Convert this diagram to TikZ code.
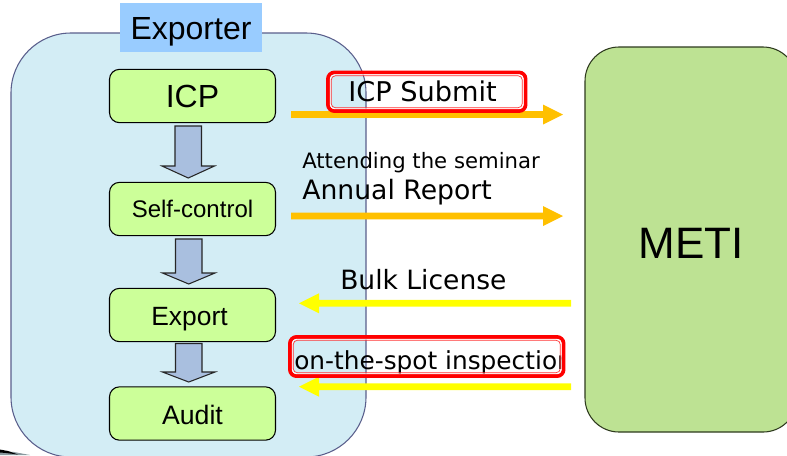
\documentclass[tikz,border=0pt]{standalone}
\usepackage{fontspec}
\setmainfont{Liberation Sans}
\newfontfamily\labelfont{DejaVu Sans}
\tikzset{
  x=0.75pt,y=-0.75pt,
  stepbox/.style={draw=black,line width=0.8pt,fill=stepgreen,rounded corners=7.5pt,minimum width=124.5pt,minimum height=40pt,inner sep=0pt,text depth=0pt},
  flowdown/.style={draw=black!85,line width=0.8pt,fill=flowblue},
  redframe/.style={draw=framered,line width=2.8pt,rounded corners=5pt},
  redinner/.style={draw=white,line width=0.6pt,rounded corners=3pt},
  redthin/.style={draw=framered!80,line width=0.5pt,rounded corners=3pt},
  lbl/.style={inner sep=0pt,anchor=base west,font=\labelfont,text=black},
}
\definecolor{stepgreen}{HTML}{CCFF99}
\definecolor{flowblue}{HTML}{A9BFDF}
\definecolor{panelblue}{HTML}{D3EDF5}
\definecolor{paneledge}{HTML}{5A5F8C}
\definecolor{titleblue}{HTML}{99CCFF}
\definecolor{metigreen}{HTML}{BDE293}
\definecolor{metiedge}{HTML}{2E3A1E}
\definecolor{framered}{HTML}{FF0000}
\definecolor{arrowamber}{HTML}{FFC000}
\definecolor{arrowyellow}{HTML}{FFFF00}
\newcommand{\hollowdown}[5]{% left shaft, right shaft, top y, barb y, tip y
  \draw[flowdown] (#1,#3) -- (#2,#3) -- (#2,#4) -- ({#2+13},#4) -- ({(#1+#2)/2},#5) -- ({#1-13},#4) -- (#1,#4) -- cycle;}
\newcommand{\bandarrow}[5]{% x0 x1 y colour dir
  \fill[#4] (#1,#3-3.4) -- ({#2-(#5)*20},#3-3.4) -- ({#2-(#5)*20},#3-10) -- (#2,#3) -- ({#2-(#5)*20},#3+10) -- ({#2-(#5)*20},#3+3.4) -- (#1,#3+3.4) -- cycle;}
\newcommand{\doubleframe}[4]{% outer left, top, right, bottom
  \draw[redframe] ({#1+1.9},{#2+1.9}) rectangle ({#3-1.9},{#4-1.9});
  \draw[redinner] ({#1+4.3},{#2+4.3}) rectangle ({#3-4.3},{#4-4.3});
  \draw[redthin] ({#1+5.3},{#2+5.3}) rectangle ({#3-5.3},{#4-5.3});}
\begin{document}
\begin{tikzpicture}
\useasboundingbox (0,0) rectangle (787,455);
\begin{scope}
\clip (0,0) rectangle (787,455);
\fill[white] (0,0) rectangle (787,455);
% panel
\draw[paneledge,line width=0.8pt,fill=panelblue,rounded corners=45pt] (11,33) rectangle (366,457);
% trace of a shadow at the lower left edge
\fill[black!35!panelblue] (0,451) -- (14,452) -- (30,455) -- (0,455) -- cycle;
\fill[black] (0,449.5) -- (8,451) -- (18,454.5) -- (6,453) -- (0,452.5) -- cycle;
% METI
\node[draw=metiedge,line width=0.8pt,fill=metigreen,rounded corners=25.5pt,minimum width=159pt,minimum height=288.75pt,inner sep=0pt,text depth=0pt,text height=27.75pt,font=\fontsize{33}{40}\selectfont] (meti) at (691,239.5) {METI};
\end{scope}
% title
\node[fill=titleblue,minimum width=106.5pt,minimum height=36.5pt,inner sep=0pt,text depth=0pt,text height=18pt,font=\fontsize{24}{29}\selectfont] (title) at (191,27.5) {Exporter};
% steps
\node[stepbox,text height=16.5pt,font=\fontsize{24}{29}\selectfont] (icp) at (192.5,96) {ICP};
\node[stepbox,text height=12pt,font=\fontsize{18}{22}\selectfont] (self) at (192.5,209) {Self-control};
\node[stepbox,text height=15pt,font=\fontsize{19.8}{24}\selectfont] (export) at (192.5,315) {Export\kern4.5pt\relax};
\node[stepbox,text height=15.75pt,font=\fontsize{20}{24}\selectfont] (audit) at (192.5,413.5) {Audit};
\hollowdown{175}{201.5}{126}{166}{178}
\hollowdown{175.5}{202}{239}{273}{284}
\hollowdown{175.5}{202}{343.5}{372}{382}
% arrows
\bandarrow{291}{563}{114.5}{arrowamber}{1}
\bandarrow{291}{563}{216}{arrowamber}{1}
\bandarrow{571}{299}{303.3}{arrowyellow}{-1}
\bandarrow{571}{299}{386.7}{arrowyellow}{-1}
% labels
\node[lbl,font=\labelfont\fontsize{20.4}{24}\selectfont] (submit) at (348,101.5) {ICP Submit};
\node[lbl,font=\labelfont\fontsize{15.9}{19}\selectfont] (seminar) at (302,168) {Attending the seminar};
\node[lbl,font=\labelfont\fontsize{20}{24}\selectfont] (annual) at (302,199) {Annual Report};
\node[lbl,font=\labelfont\fontsize{19.9}{24}\selectfont] (bulk) at (340,289) {Bulk License};
\begin{scope}
\clip (280,330) rectangle (563,380);
\node[lbl,font=\labelfont\fontsize{18.6}{23}\selectfont] (spot) at (294,369) {on-the-spot inspection};
\end{scope}
% frames
\doubleframe{326}{70.5}{527.5}{113}
\doubleframe{288}{335}{565.5}{378}
\end{tikzpicture}
\end{document}
